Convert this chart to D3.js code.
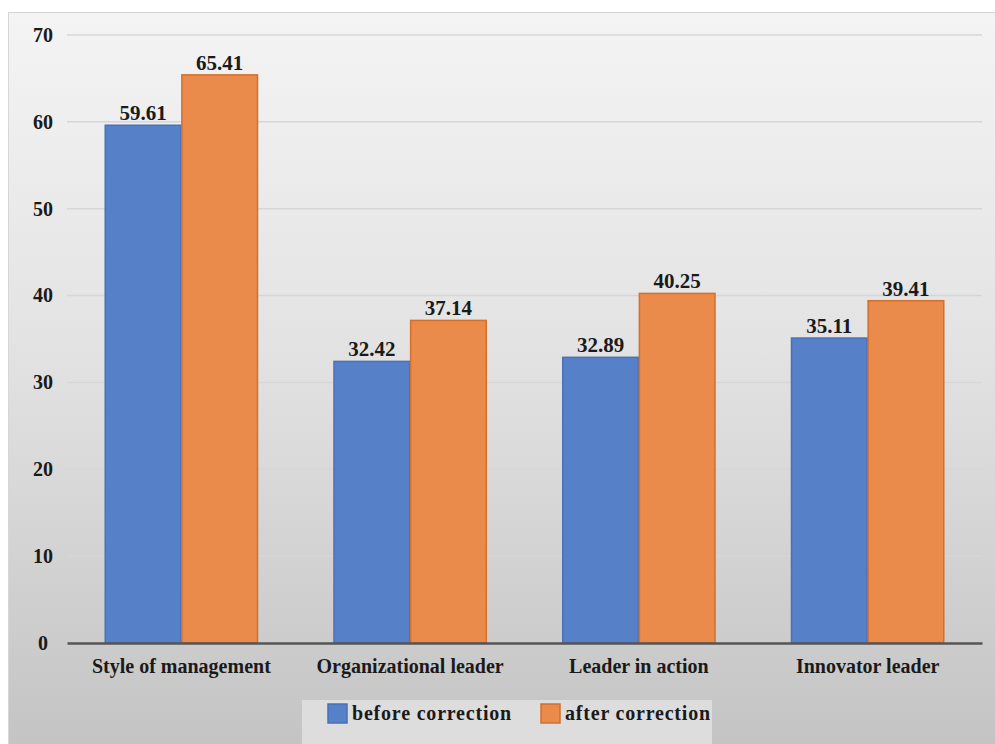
<!DOCTYPE html>
<html>
<head>
<meta charset="utf-8">
<script src="https://cdn.jsdelivr.net/npm/d3@7"></script>
<style>
  body { margin: 0; background: #fff; }
  svg text { font-family: "Liberation Serif", "DejaVu Serif", "Times New Roman", Times, serif !important; font-weight: bold; fill: #1a1a1a; }
</style>
</head>
<body>
<div id="chart"></div>
<script>
// data
const categories = ['Style of management', 'Organizational leader', 'Leader in action', 'Innovator leader'];
const seriesNames = ['before correction', 'after correction'];
const beforeValues = [59.61, 32.42, 32.89, 35.11];
const afterValues = [65.41, 37.14, 40.25, 39.41];
const yTicks = [0, 10, 20, 30, 40, 50, 60, 70];

const colors = ['#5681c9', '#ea8a4b'];
const strokes = ['#4a70b8', '#d46f2c'];

const W = 995, H = 744;
const margin = { top: 35, right: 13, bottom: 101, left: 67 };
const width = W - margin.left - margin.right;
const height = 643 - margin.top;

const svg = d3.select('#chart')
  .append('svg')
  .attr('width', W)
  .attr('height', H);

// background gradient
const defs = svg.append('defs');
const grad = defs.append('linearGradient')
  .attr('id', 'bg')
  .attr('x1', '0').attr('y1', '0')
  .attr('x2', '0').attr('y2', '1');
grad.append('stop').attr('offset', '0').attr('stop-color', '#f4f4f4');
grad.append('stop').attr('offset', '0.45').attr('stop-color', '#e3e3e3');
grad.append('stop').attr('offset', '1').attr('stop-color', '#c4c4c4');

svg.append('rect')
  .attr('x', 8.5).attr('y', 12.5)
  .attr('width', W - 8).attr('height', H - 12)
  .attr('fill', 'url(#bg)')
  .attr('stroke', '#d6d6d6');

const g = svg.append('g')
  .attr('transform', `translate(${margin.left},${margin.top})`);

const x = d3.scaleBand()
  .domain(categories)
  .range([0, width])
  .paddingInner(0.33)
  .paddingOuter(0.165);

const xs = d3.scaleBand()
  .domain(seriesNames)
  .range([0, x.bandwidth()]);

const y = d3.scaleLinear()
  .domain([0, 70])
  .range([height, 0]);

// gridlines
g.append('g')
  .selectAll('line')
  .data(yTicks.filter(d => d > 0))
  .join('line')
  .attr('x1', 0).attr('x2', width)
  .attr('y1', d => y(d)).attr('y2', d => y(d))
  .attr('stroke', '#d6d6d6')
  .attr('stroke-width', 1.5);

// y axis labels
const yAxis = g.append('g')
  .call(d3.axisLeft(y).tickValues(yTicks).tickSize(0).tickPadding(16).tickFormat(d3.format('d')));
yAxis.select('.domain').remove();
yAxis.selectAll('text')
  .style('font-size', '20px')
  .attr('text-anchor', 'middle')
  .attr('x', -24);

// bars
const rows = categories.map((c, i) => ({ cat: c, vals: [beforeValues[i], afterValues[i]] }));
const groups = g.selectAll('.grp')
  .data(rows)
  .join('g')
  .attr('class', 'grp')
  .attr('transform', d => `translate(${x(d.cat)},0)`);

groups.selectAll('rect')
  .data(d => d.vals.map((v, k) => ({ v, k })))
  .join('rect')
  .attr('x', d => xs(seriesNames[d.k]) + 0.5)
  .attr('width', xs.bandwidth() - 1)
  .attr('y', d => y(d.v))
  .attr('height', d => y(0) - y(d.v))
  .attr('fill', d => colors[d.k])
  .attr('stroke', d => strokes[d.k])
  .attr('stroke-width', 1.5);

groups.selectAll('.val')
  .data(d => d.vals.map((v, k) => ({ v, k })))
  .join('text')
  .attr('class', 'val')
  .attr('x', d => xs(seriesNames[d.k]) + xs.bandwidth() / 2)
  .attr('y', d => y(d.v) - 5)
  .attr('text-anchor', 'middle')
  .style('font-size', '21px')
  .text(d => d.v.toFixed(2));

// x axis
const xAxis = g.append('g')
  .attr('transform', `translate(0,${height})`)
  .call(d3.axisBottom(x).tickSize(0).tickPadding(16));
xAxis.select('.domain')
  .attr('stroke', '#555')
  .attr('stroke-width', 2.5);
xAxis.selectAll('text')
  .style('font-size', '20px');

// legend
const legend = svg.append('g');
legend.append('rect')
  .attr('x', 302).attr('y', 700)
  .attr('width', 410).attr('height', 44)
  .attr('fill', '#dddddd');
const legendX = [328, 541];
seriesNames.forEach((s, i) => {
  legend.append('rect')
    .attr('x', legendX[i]).attr('y', 704)
    .attr('width', 19).attr('height', 19)
    .attr('fill', colors[i])
    .attr('stroke', strokes[i])
    .attr('stroke-width', 1.5);
  legend.append('text')
    .attr('x', legendX[i] + 24).attr('y', 720)
    .style('font-size', '20px')
    .attr('letter-spacing', 0.8)
    .text(s);
});
</script>
</body>
</html>
